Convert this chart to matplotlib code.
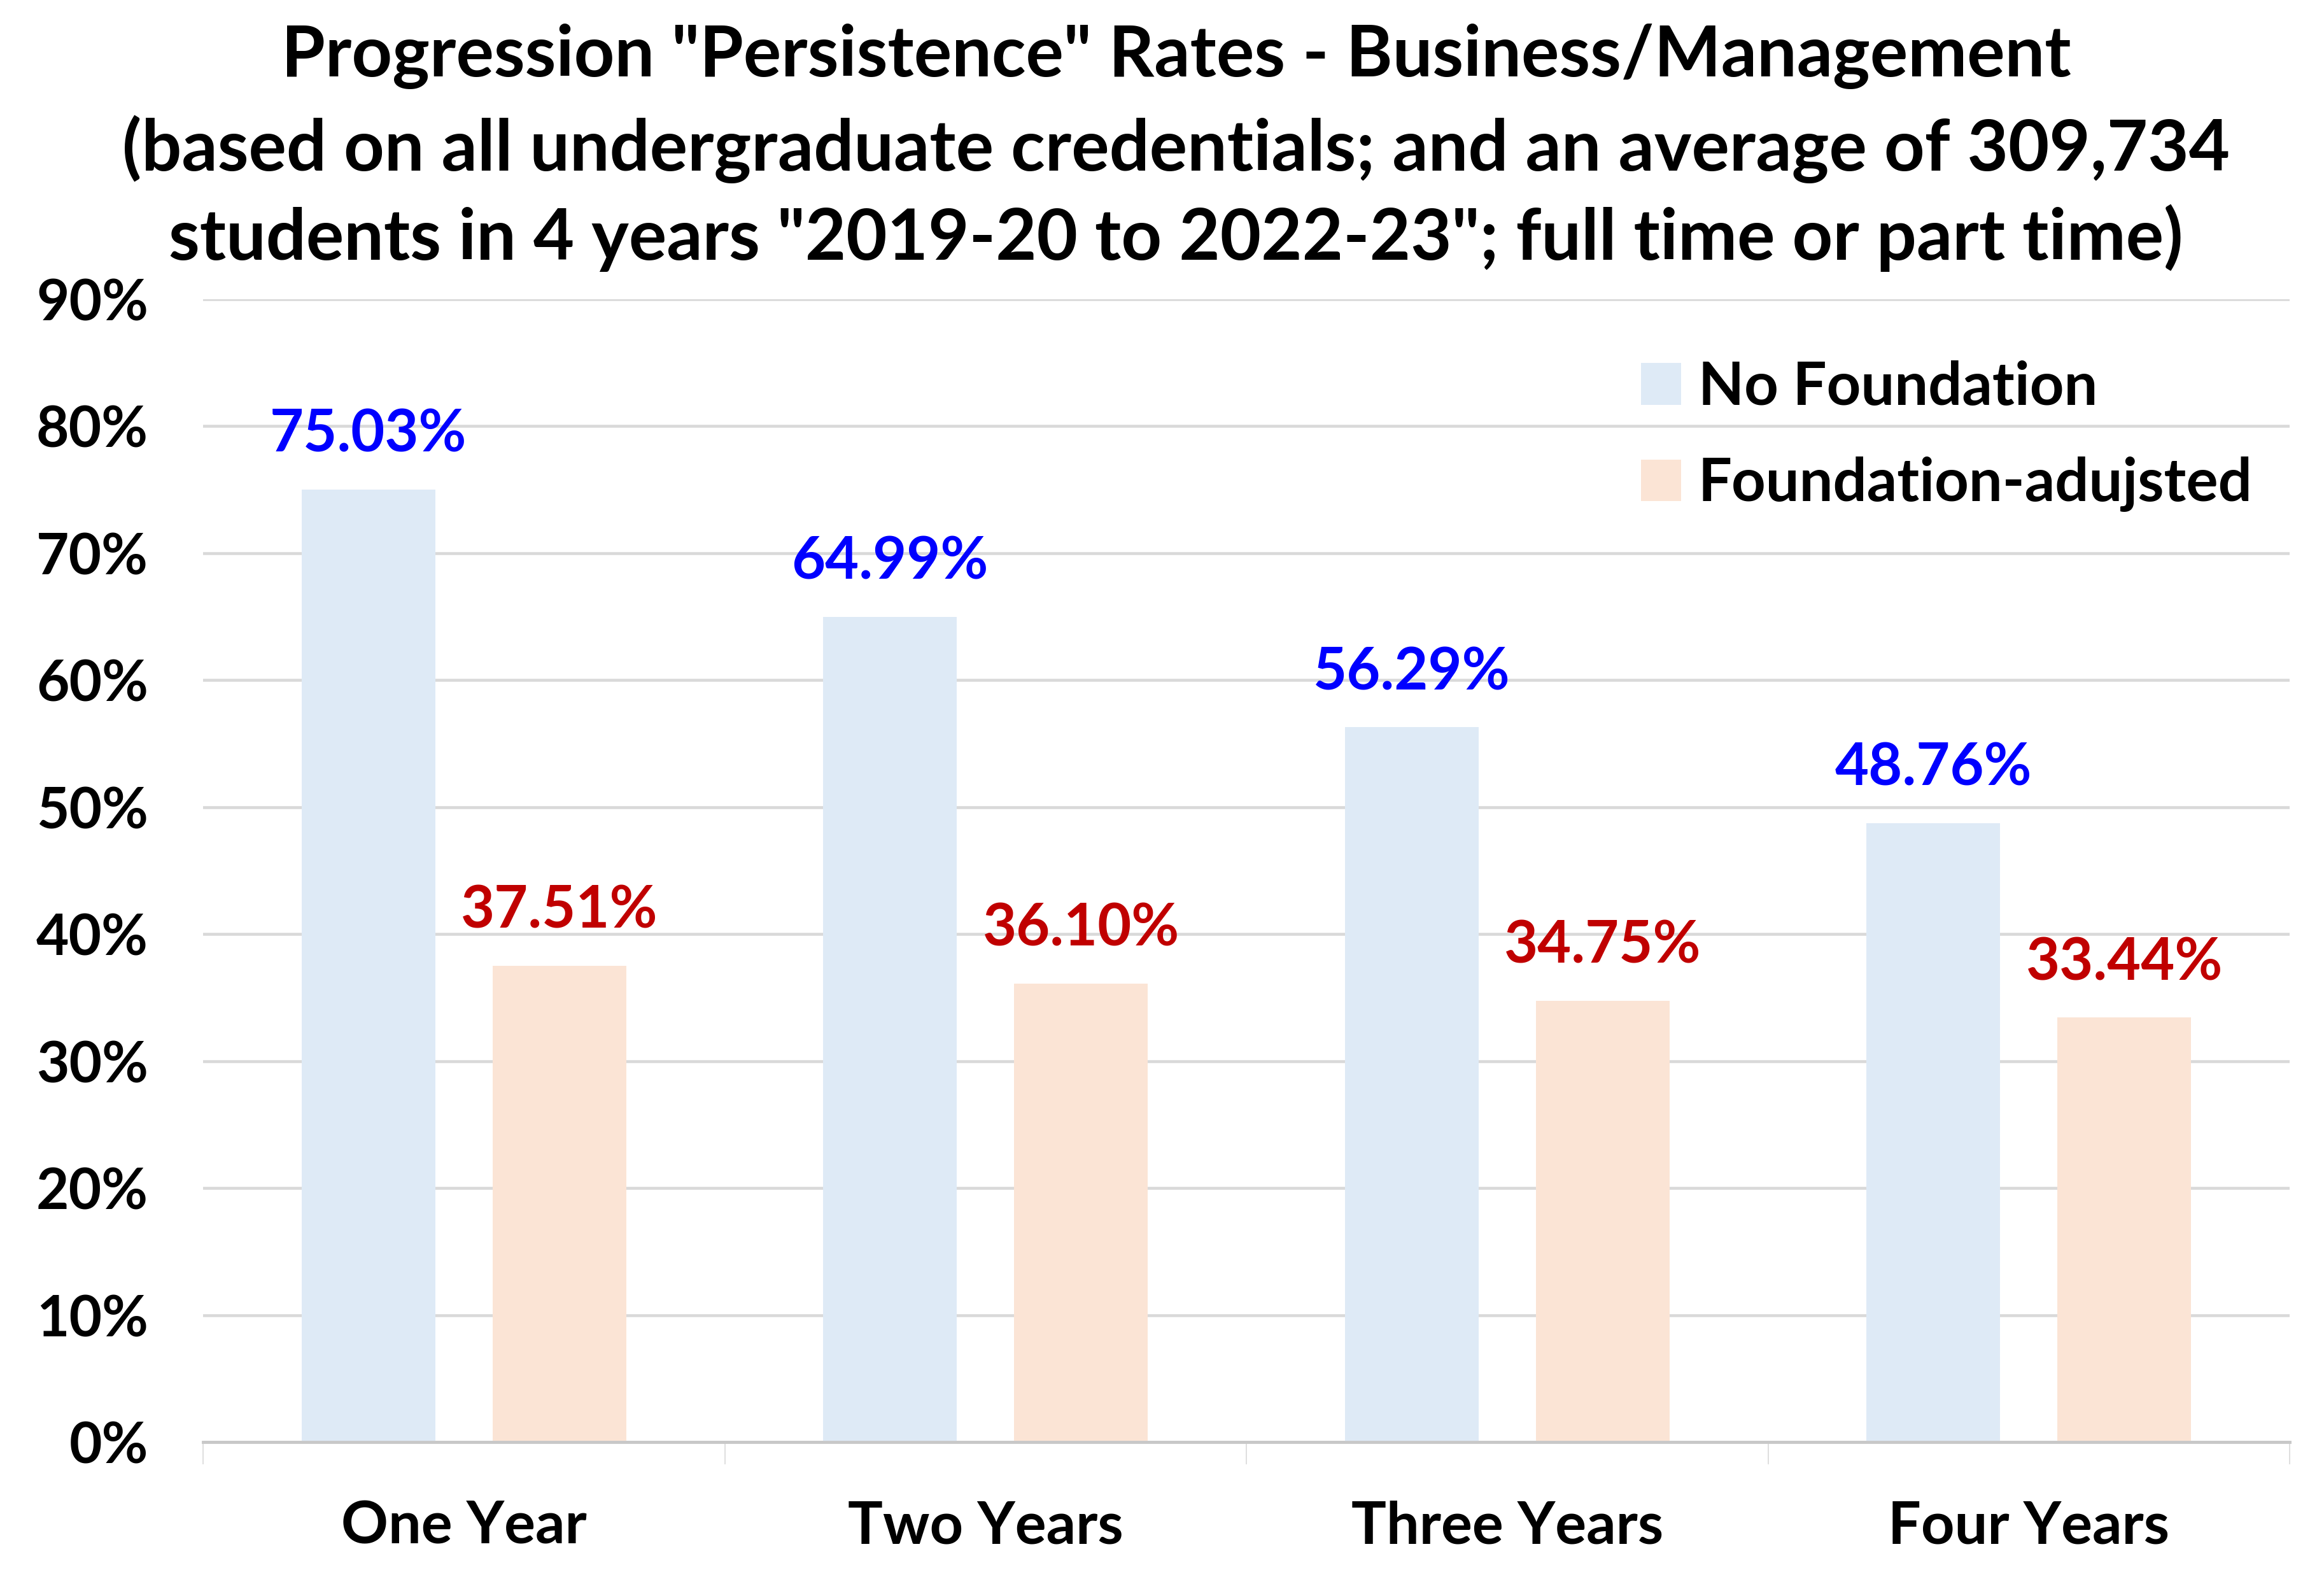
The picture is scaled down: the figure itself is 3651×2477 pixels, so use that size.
import matplotlib
matplotlib.use("Agg")
import matplotlib.pyplot as plt
import numpy as np
from matplotlib.ticker import FuncFormatter, FixedLocator

plt.rcParams['font.family'] = ['Lato', 'DejaVu Sans']
plt.rcParams['font.weight'] = 'bold'

categories = ["One Year", "Two Years", "Three Years", "Four Years"]
no_foundation = [75.03, 64.99, 56.29, 48.76]
foundation_adj = [37.51, 36.10, 34.75, 33.44]
series_names = ["No Foundation", "Foundation-adujsted"]
title_lines = ['Progression "Persistence" Rates - Business/Management',
               '(based on all undergraduate credentials; and an average of 309,734',
               'students in 4 years "2019-20 to 2022-23"; full time or part time)']

W, H = 3651, 2477
fig = plt.figure(figsize=(W / 100, H / 100), dpi=100)
ax = fig.add_axes([319 / W, 1 - 2265 / H, (3597 - 319) / W, (2265 - 470) / H])

x = np.arange(len(categories))
bw = 0.256
off = 0.183
c_blue = "#DEEAF6"
c_orange = "#FBE4D5"
b1 = ax.bar(x - off, no_foundation, bw, color=c_blue, label=series_names[0], zorder=2)
b2 = ax.bar(x + off, foundation_adj, bw, color=c_orange, label=series_names[1], zorder=2)

fs_lab = 66
for xi, v in zip(x, no_foundation):
    ax.annotate(f"{v:.2f}%", (xi - off, v), xytext=(0, 31), textcoords="offset points",
                ha="center", va="bottom", color="#0000FF", fontsize=fs_lab, fontweight="bold")
for xi, v in zip(x, foundation_adj):
    ax.annotate(f"{v:.2f}%", (xi + off, v), xytext=(0, 31), textcoords="offset points",
                ha="center", va="bottom", color="#C00000", fontsize=fs_lab, fontweight="bold")

ax.set_ylim(0, 90)
ax.set_xlim(-0.5, 3.5)
ax.set_yticks(np.arange(0, 91, 10))
ax.yaxis.set_major_formatter(FuncFormatter(lambda v, p: f"{v:.0f}%"))
ax.grid(axis="y", color="#D9D9D9", linewidth=3.3, zorder=0)
ax.set_axisbelow(True)
for s in ["top", "right", "left"]:
    ax.spines[s].set_visible(False)
ax.spines["bottom"].set_color("#C8C8C8")
ax.spines["bottom"].set_linewidth(3.5)
ax.spines["bottom"].set_zorder(3)

ax.tick_params(axis="y", length=0, pad=62, labelsize=64)
ax.set_xticks(x)
ax.set_xticklabels(categories)
ax.tick_params(axis="x", which="major", length=0, pad=66, labelsize=66)
ax.xaxis.set_minor_locator(FixedLocator([-0.5, 0.5, 1.5, 2.5, 3.5]))
ax.tick_params(axis="x", which="minor", length=25, width=1.2, color="#D9D9D9", direction="out")
for lab in ax.get_xticklabels() + ax.get_yticklabels():
    lab.set_fontweight("bold")

ys = [89, 234, 374]
for t, yy in zip(title_lines, ys):
    fig.text(0.506, 1 - yy / H, t, ha="center", va="center", fontsize=80, fontweight="bold")

leg = ax.legend(loc="upper left", bbox_to_anchor=(2540 / W, 1 - 528 / H), bbox_transform=fig.transFigure,
                frameon=False, fontsize=67.5, handlelength=0.68, handleheight=0.7,
                handletextpad=0.28, labelspacing=0.7, borderaxespad=0)
for t in leg.get_texts():
    t.set_fontweight("bold")

fig.savefig("out.png", dpi=100, facecolor="white")
